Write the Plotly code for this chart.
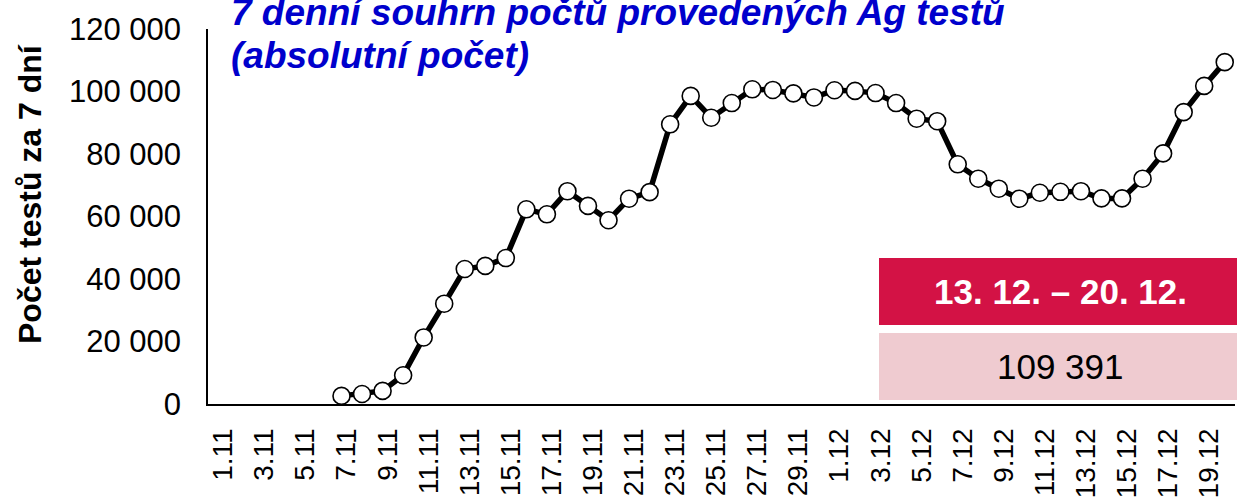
import plotly.graph_objects as go

# ---------------- data ----------------
days_nov = [f"{d}.11" for d in range(1, 31)]
days_dec = [f"{d}.12" for d in range(1, 21)]
dates = days_nov + days_dec

tests_nov = [None, None, None, None, None, None,
             2600, 3200, 4200, 9200, 21300, 32100, 43200, 44200, 46700,
             62300, 60700, 68100, 63400, 58800, 65700, 67800, 89500, 98600,
             91600, 96300, 100700, 100500, 99400, 98100]
tests_dec = [100400, 100200, 99500, 96300, 91300, 90500, 76700, 72100,
             68900, 65700, 67600, 67900, 68100, 65800, 65800, 72100,
             80200, 93400, 101800, 109391]
tests = tests_nov + tests_dec

tick_labels = dates[::2]
y_ticks = [0, 20000, 40000, 60000, 80000, 100000, 120000]
y_tick_text = ["0", "20 000", "40 000", "60 000", "80 000", "100 000", "120 000"]

title_lines = ["7 denní souhrn počtů provedených Ag testů", "(absolutní počet)"]
y_title = "Počet testů za 7 dní"
box_period = "13. 12. – 20. 12."
box_value = f"{tests[-1]:,}".replace(",", " ")

# ---------------- layout geometry ----------------
W, H = 1237, 501
L, R, T, B = 208, 2, 29, 97
PW = W - L - R
PH = H - T - B
FONT = "Liberation Sans, Arial, sans-serif"


def px(x):
    return (x - L) / PW


def py(y):
    return (H - B - y) / PH


fig = go.Figure()
fig.add_trace(go.Scatter(
    x=dates, y=tests, mode="lines+markers",
    line=dict(color="black", width=5.5),
    marker=dict(size=17, color="white", line=dict(color="black", width=1.6)),
    connectgaps=False, cliponaxis=False, hoverinfo="x+y",
))

fig.update_layout(
    width=W, height=H,
    autosize=False,
    margin=dict(l=L, r=R, t=T, b=B, autoexpand=False),
    paper_bgcolor="white", plot_bgcolor="white",
    showlegend=False,
    font=dict(family=FONT, color="black"),
    xaxis=dict(
        type="category", categoryorder="array", categoryarray=dates,
        range=[-0.5, len(dates) - 0.5],
        tickmode="array", tickvals=tick_labels, ticktext=tick_labels,
        tickangle=-89.99, tickfont=dict(size=28, family=FONT, color="black"),
        showgrid=False, zeroline=False,
        showline=True, linecolor="black", linewidth=1.5,
        ticks="", ticklabelstandoff=3, automargin=False,
    ),
    yaxis=dict(
        range=[0, 120000],
        tickmode="array", tickvals=y_ticks, ticktext=y_tick_text,
        tickfont=dict(size=31, family=FONT, color="black"),
        showgrid=False, zeroline=False,
        showline=True, linecolor="black", linewidth=1.5,
        ticks="", ticklabelstandoff=19, automargin=False,
    ),
)

# y-axis title
fig.add_annotation(
    xref="paper", yref="paper", x=px(30), y=py(194),
    text=f"<b>{y_title}</b>", textangle=-90, showarrow=False,
    font=dict(size=32, family=FONT, color="black"),
    xanchor="center", yanchor="middle",
)

# chart title (two lines)
for line, yc in zip(title_lines, [12, 56]):
    fig.add_annotation(
        xref="paper", yref="paper", x=px(229), y=py(yc),
        text=f"<b><i>{line}</i></b>", showarrow=False,
        font=dict(size=37, family=FONT, color="#0000CC"),
        xanchor="left", yanchor="middle",
    )

# info boxes
fig.add_shape(type="rect", xref="paper", yref="paper",
              x0=px(879), x1=px(1240), y0=py(325), y1=py(258),
              fillcolor="#D31245", line=dict(width=0), layer="above")
fig.add_shape(type="rect", xref="paper", yref="paper",
              x0=px(879), x1=px(1240), y0=py(400), y1=py(333),
              fillcolor="#EFCBD0", line=dict(width=0), layer="above")
fig.add_annotation(
    xref="paper", yref="paper", x=px(1060), y=py(291),
    text=f"<b>{box_period}</b>", showarrow=False,
    font=dict(size=35, family=FONT, color="white"),
    xanchor="center", yanchor="middle",
)
fig.add_annotation(
    xref="paper", yref="paper", x=px(1060), y=py(366),
    text=box_value, showarrow=False,
    font=dict(size=35, family=FONT, color="black"),
    xanchor="center", yanchor="middle",
)

fig.write_html("out.html", config={"displayModeBar": False},
               post_script="document.body.style.margin='0';")
